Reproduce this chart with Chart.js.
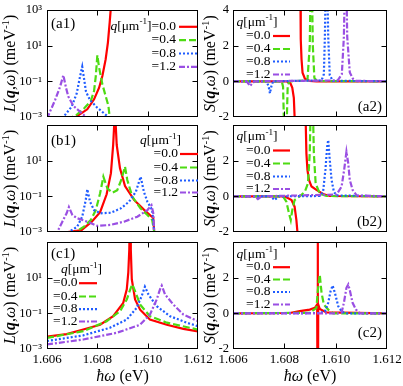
<!DOCTYPE html>
<html><head><meta charset="utf-8">
<script src="https://cdn.jsdelivr.net/npm/chart.js@4/dist/chart.umd.min.js"></script>
<style>html,body{margin:0;padding:0;background:#fff;}#wrap{position:relative;width:403px;height:386px;overflow:hidden;background:#fff;}canvas{position:absolute;left:0;top:0;}</style>
</head><body><div id="wrap"></div>
<script>
// ---------- tick values / labels ----------
const xTicks = [1.606, 1.608, 1.610, 1.612];
const logTicks = [1e-3, 1e-1, 1e1, 1e3];
const logTickLabels = ['10\u207B\u00B3', '10\u207B\u00B9', '10\u00B9', '10\u00B3'];
const linTicks = [-2, 0, 2, 4];
const linTickLabels = ['-2', '0', '2', '4'];
const qLabels = ['=0.0', '=0.4', '=0.8', '=1.2'];

// ---------- data: [ħω (eV), value (meV^-1)] ----------
const a1_q00 = [[1.60700,5e-4],[1.60714,1.0e-3],[1.60760,2.7e-3],[1.60787,9.8e-3],[1.60807,0.044],[1.60820,0.20],[1.60833,1.7],[1.60842,15],[1.60849,195],[1.60853,1000],[1.60856,1e5]];
const a1_q04 = [[1.60690,5e-4],[1.60701,1e-3],[1.60720,0.0014],[1.60747,0.0030],[1.60774,0.0079],[1.60787,0.029],[1.60794,0.20],[1.60800,2.9],[1.60807,0.59],[1.60820,0.068],[1.60833,0.015],[1.60844,0.0042],[1.60849,1e-3],[1.60852,3e-4]];
const a1_q08 = [[1.60655,5e-4],[1.60665,1e-3],[1.60698,0.0038],[1.60718,0.021],[1.60731,0.18],[1.60740,0.66],[1.60747,0.148],[1.60755,0.026],[1.60771,0.0089],[1.60798,0.0035],[1.60844,1e-3],[1.60855,5e-4]];
const a1_q12 = [[1.60600,8e-4],[1.60612,0.0020],[1.60632,0.0089],[1.60652,0.050],[1.60665,0.22],[1.60676,0.041],[1.60685,0.0138],[1.60705,0.0042],[1.60731,0.0020],[1.60755,1e-3],[1.60765,6e-4]];

const a2_q00 = [[1.606,0],[1.60808,0],[1.60824,-0.11],[1.60831,-0.36],[1.60837,-0.92],[1.60840,-2],[1.60842,-4],[1.60850,null],[1.60862,6],[1.60864,2.36],[1.60867,1.24],[1.60871,0.48],[1.60880,0.15],[1.60899,0.02],[1.60925,0],[1.612,0]];
const a2_q04 = [[1.606,0],[1.60790,0],[1.60795,-0.3],[1.60799,-2.5],[1.60804,-6],[1.60809,-2.5],[1.60813,-0.3],[1.60819,0],[1.60890,0.05],[1.60899,2],[1.60905,8],[1.60911,2],[1.60917,0.2],[1.60926,0.02],[1.612,0]];
const a2_q08 = [[1.606,0],[1.60731,0],[1.60739,-0.3],[1.60744,-0.67],[1.60749,-0.3],[1.60756,0],[1.60945,0.05],[1.60954,0.4],[1.60958,2.5],[1.60964,8],[1.60971,2.5],[1.60977,0.35],[1.60989,0.03],[1.612,0]];
const a2_q12 = [[1.606,0],[1.60653,0],[1.60661,-0.15],[1.60667,-0.26],[1.60674,-0.12],[1.60684,0],[1.61008,0.05],[1.61024,0.4],[1.61032,2.5],[1.61039,8],[1.61045,2.5],[1.61055,0.5],[1.61067,0.15],[1.61079,0.03],[1.612,0]];

const b1_q00 = [[1.60675,5e-4],[1.60685,1e-3],[1.60738,0.0013],[1.60778,0.0038],[1.60811,0.013],[1.60837,0.13],[1.60854,2.0],[1.60863,80],[1.60867,1000],[1.60870,1e5],[1.60873,1000],[1.60877,76],[1.60890,3.7],[1.60910,0.38],[1.60946,0.063],[1.60985,0.018],[1.61013,0.0079],[1.61022,0.0063],[1.61026,1e-3],[1.61028,1e-4]];
const b1_q04 = [[1.60705,5e-4],[1.60714,1e-3],[1.60747,0.0020],[1.60774,0.0047],[1.60794,0.017],[1.60811,0.148],[1.60824,1.26],[1.60840,0.28],[1.60860,0.16],[1.60879,0.22],[1.60895,0.83],[1.60910,4.6],[1.60919,0.83],[1.60939,0.095],[1.60972,0.021],[1.60999,0.0089],[1.61018,0.0047],[1.61026,1e-3],[1.61028,1e-4]];
const b1_q08 = [[1.60680,5e-4],[1.60687,1e-3],[1.60720,0.0020],[1.60740,0.0072],[1.60754,0.063],[1.60760,0.25],[1.60771,0.05],[1.60787,0.017],[1.60813,0.0112],[1.60853,0.012],[1.60893,0.021],[1.60926,0.050],[1.60953,0.18],[1.60972,1.26],[1.60985,0.18],[1.60999,0.050],[1.61018,0.017],[1.61026,1e-3],[1.61028,1e-4]];
const b1_q12 = [[1.60635,5e-4],[1.60641,1e-3],[1.60661,0.0038],[1.60678,0.0112],[1.60687,0.025],[1.60701,0.0089],[1.60720,0.0059],[1.60760,0.0038],[1.60800,0.0022],[1.60853,0.0025],[1.60906,0.0038],[1.60959,0.0072],[1.60999,0.017],[1.61015,0.032],[1.61022,0.012],[1.61026,1e-3],[1.61028,1e-4]];

const b2_q00 = [[1.606,0],[1.60801,0],[1.60828,-0.21],[1.60840,-0.58],[1.60847,-1.33],[1.60851,-2.0],[1.60853,-4],[1.60865,null],[1.60882,5],[1.60886,2.41],[1.60890,1.48],[1.60896,0.92],[1.60906,0.55],[1.60925,0.36],[1.60951,0.13],[1.60977,0.02],[1.612,0]];
const b2_q04 = [[1.606,0],[1.60795,0],[1.60808,-0.30],[1.60818,-0.95],[1.60825,-1.33],[1.60831,-0.77],[1.60840,-0.21],[1.60860,0],[1.60880,0.26],[1.60892,0.73],[1.60899,2.41],[1.60907,8],[1.60915,2.41],[1.60922,0.73],[1.60938,0.15],[1.60964,0.02],[1.612,0]];
const b2_q08 = [[1.606,0],[1.60747,0],[1.60762,-0.21],[1.60778,0],[1.60938,0.02],[1.60951,0.26],[1.60960,1.48],[1.60967,2.8],[1.60971,3.16],[1.60977,2.04],[1.60984,0.92],[1.60993,0.26],[1.61003,0.05],[1.612,0]];
const b2_q12 = [[1.606,0],[1.60684,0],[1.60697,-0.15],[1.60711,0],[1.61003,0.1],[1.61023,0.54],[1.61033,1.48],[1.61042,2.5],[1.61049,1.85],[1.61055,0.92],[1.61066,0.36],[1.61082,0.05],[1.612,0]];

const c1_q00 = [[1.606,0.0050],[1.60678,0.0068],[1.60744,0.0123],[1.60811,0.023],[1.60863,0.069],[1.60903,0.39],[1.60917,2.2],[1.60923,19],[1.60927,380],[1.60930,1e5],[1.60933,380],[1.60937,7.9],[1.60950,0.60],[1.60970,0.16],[1.61009,0.045],[1.61076,0.023],[1.61142,0.0135],[1.612,0.0098]];
const c1_q04 = [[1.606,0.0042],[1.60744,0.010],[1.60837,0.036],[1.60890,0.13],[1.60917,0.60],[1.60933,2.7],[1.60939,4.2],[1.60950,1.74],[1.60970,0.31],[1.61009,0.069],[1.61076,0.030],[1.612,0.0123]];
const c1_q08 = [[1.606,0.0028],[1.60744,0.0058],[1.60850,0.0155],[1.60917,0.045],[1.60956,0.20],[1.60976,0.91],[1.60989,3.1],[1.61003,1.15],[1.61036,0.25],[1.61089,0.069],[1.61155,0.030],[1.612,0.019]];
const c1_q12 = [[1.606,0.0018],[1.60744,0.0034],[1.60877,0.0081],[1.60970,0.023],[1.61009,0.085],[1.61036,0.60],[1.61049,2.2],[1.61056,3.6],[1.61069,1.15],[1.61102,0.31],[1.61142,0.085],[1.612,0.036]];

const c2_q00 = [[1.606,0],[1.60821,0.02],[1.60860,0.12],[1.60899,0.21],[1.60919,0.31],[1.60928,0.5],[1.60930,10],[1.60931,-10],[1.60932,0.5],[1.60938,0.25],[1.60964,0.05],[1.612,0]];
const c2_q04 = [[1.606,0],[1.60900,0.03],[1.60925,0.31],[1.60931,1.34],[1.60938,2.18],[1.60945,1.15],[1.60954,0.49],[1.60971,0.21],[1.60990,0],[1.612,0]];
const c2_q08 = [[1.606,0],[1.60938,0.02],[1.60958,0.1],[1.60971,0.59],[1.60980,1.24],[1.60988,1.56],[1.60997,1.15],[1.61010,0.40],[1.61023,0.12],[1.61036,0],[1.612,0]];
const c2_q12 = [[1.606,0],[1.61010,0],[1.61023,0.03],[1.61032,0.59],[1.61042,1.43],[1.61049,1.62],[1.61055,1.30],[1.61066,0.59],[1.61079,0.21],[1.61094,0],[1.612,0]];

// ---------- styles ----------
const SERIF = '"Liberation Serif","Times New Roman","DejaVu Serif",serif';
const STYLE = [
  {color:'#ff0000', dash:[]},
  {color:'#4ddb12', dash:[7,3]},
  {color:'#1f5cff', dash:[2,2]},
  {color:'#9a4fe3', dash:[6,2,2,2]}
];
const qUnit = [{t:'q',s:'italic'},{t:'[\u03BCm'},{t:'-1',sup:true},{t:']'}];
const yTitleL = [{t:'L',s:'italic'},{t:'('},{t:'q',s:'italic bold'},{t:','},{t:'\u03C9',s:'italic'},{t:') (meV'},{t:'-1',sup:true},{t:')'}];
const yTitleS = [{t:'S',s:'italic'},{t:'('},{t:'q',s:'italic bold'},{t:','},{t:'\u03C9',s:'italic'},{t:') (meV'},{t:'-1',sup:true},{t:')'}];
const xTitle = [{t:'\u0127\u03C9',s:'italic'},{t:' (eV)'}];

const LBOX = [47, 198], RBOX = [233, 387];
const ROWS = [[10,117],[125,232],[242,349]];

const panels = [
  {log:true, xb:LBOX, yb:ROWS[0], series:[a1_q00,a1_q04,a1_q08,a1_q12], hideTop:false, xAxis:false,
   label:'(a1)', lab:[51,24.5,'left'], yTitle:yTitleL, yTx:11,
   leg:{inline:true, textRight:176, s0:179, s1:197, rows:[26.3,39.7,53,66.3]}},
  {log:false, xb:RBOX, yb:ROWS[0], series:[a2_q00,a2_q04,a2_q08,a2_q12], hideTop:false, xAxis:false,
   label:'(a2)', lab:[382,107.5,'right'], yTitle:yTitleS, yTx:211,
   leg:{title:[236.5,22,'left'], textRight:270.5, s0:273, s1:290, rows:[35.5,48.5,61,74]}},
  {log:true, xb:LBOX, yb:ROWS[1], series:[b1_q00,b1_q04,b1_q08,b1_q12], hideTop:true, xAxis:false,
   label:'(b1)', lab:[51,141.5,'left'], yTitle:yTitleL, yTx:11,
   leg:{title:[140,140.5,'left'], textRight:178, s0:180, s1:198, rows:[153.5,167,180,192]}},
  {log:false, xb:RBOX, yb:ROWS[1], series:[b2_q00,b2_q04,b2_q08,b2_q12], hideTop:true, xAxis:false,
   label:'(b2)', lab:[382,222.5,'right'], yTitle:yTitleS, yTx:211,
   leg:{title:[236.5,136.5,'left'], textRight:270.5, s0:273, s1:290, rows:[150,163,176,188.5]}},
  {log:true, xb:LBOX, yb:ROWS[2], series:[c1_q00,c1_q04,c1_q08,c1_q12], hideTop:true, xAxis:true,
   label:'(c1)', lab:[51,254.5,'left'], yTitle:yTitleL, yTx:11,
   leg:{title:[61,269.5,'left'], textRight:77.5, s0:79, s1:97, rows:[282.7,296,308.7,321]}},
  {log:false, xb:RBOX, yb:ROWS[2], series:[c2_q00,c2_q04,c2_q08,c2_q12], hideTop:true, xAxis:true,
   label:'(c2)', lab:[382,333.5,'right'], yTitle:yTitleS, yTx:211,
   leg:{title:[236.5,254,'left'], textRight:270.5, s0:273, s1:290, rows:[266.7,279,291.5,304]}}
];

function fnt(style,size){return (style||'normal')+' '+size+'px '+SERIF;}
function segW(ctx,segs,size){let w=0;for(const s of segs){ctx.font=fnt(s.s,s.sup?size*0.68:size);w+=ctx.measureText(s.t).width;}return w;}
function drawSegs(ctx,segs,x,y,size,align){
  const w=segW(ctx,segs,size);
  let cx=align==='right'?x-w:(align==='center'?x-w/2:x);
  ctx.textAlign='left';ctx.textBaseline='middle';ctx.fillStyle='#000';
  for(const s of segs){const sz=s.sup?size*0.68:size;ctx.font=fnt(s.s,sz);
    ctx.fillText(s.t,cx,s.sup?y-size*0.32:y);cx+=ctx.measureText(s.t).width;}
}

function makeDeco(p){
  return {id:'deco', afterDraw(chart){
    const ctx=chart.ctx, a=chart.chartArea, xs=chart.scales.x, ys=chart.scales.y;
    ctx.save();
    ctx.strokeStyle='#000';ctx.lineWidth=1;ctx.setLineDash([]);
    const L=Math.round(a.left)+0.5,R=Math.round(a.right)-0.5,T=Math.round(a.top)+0.5,B=Math.round(a.bottom)-0.5;
    ctx.strokeRect(L,T,R-L,B-T);
    const tl=5;
    ctx.beginPath();
    for(const v of xTicks){const px=Math.round(xs.getPixelForValue(v))+0.5; if(px<=L+1||px>=R-1)continue;
      ctx.moveTo(px,B);ctx.lineTo(px,B-tl);ctx.moveTo(px,T);ctx.lineTo(px,T+tl);}
    for(const v of (p.log?logTicks:linTicks)){const py=Math.round(ys.getPixelForValue(v))+0.5; if(py<=T+1||py>=B-1)continue;
      ctx.moveTo(L,py);ctx.lineTo(L+tl,py);ctx.moveTo(R,py);ctx.lineTo(R-tl,py);}
    ctx.stroke();
    drawSegs(ctx,[{t:p.label}],p.lab[0],p.lab[1],15,p.lab[2]);
    const lg=p.leg, fs=13.5;
    for(let i=0;i<4;i++){
      const y=lg.rows[i];
      let segs=[{t:qLabels[i]}];
      if(lg.inline&&i===0) segs=qUnit.concat(segs);
      drawSegs(ctx,segs,lg.textRight,y,fs,'right');
      ctx.strokeStyle=STYLE[i].color;ctx.lineWidth=2.2;ctx.setLineDash(STYLE[i].dash);
      ctx.beginPath();ctx.moveTo(lg.s0,y+0.5);ctx.lineTo(lg.s1,y+0.5);ctx.stroke();
    }
    ctx.setLineDash([]);
    if(lg.title) drawSegs(ctx,qUnit,lg.title[0],lg.title[1],fs,lg.title[2]);
    ctx.save();ctx.translate(p.yTx,(a.top+a.bottom)/2);ctx.rotate(-Math.PI/2);
    drawSegs(ctx,p.yTitle,0,0,16,'center');ctx.restore();
    if(p.xAxis) drawSegs(ctx,xTitle,(a.left+a.right)/2,377,16,'center');
    ctx.restore();
  }};
}

const wrap=document.getElementById('wrap');
const YW=40, XH=22;
for(const p of panels){
  const cv=document.createElement('canvas');cv.width=403;cv.height=386;wrap.appendChild(cv);
  const datasets=p.series.map((s,i)=>({
    data:s.map(q=>({x:q[0],y:q[1]})),
    borderColor:STYLE[i].color, borderDash:STYLE[i].dash, borderWidth:2.2,
    pointRadius:0, tension:0, fill:false, spanGaps:false, order:4-i
  }));
  const yLabels=p.log?logTickLabels:linTickLabels;
  new Chart(cv,{type:'line',data:{datasets},plugins:[makeDeco(p)],
    options:{responsive:false,animation:false,events:[],
      layout:{padding:{left:p.xb[0]-YW,right:403-p.xb[1],top:p.yb[0],bottom:386-p.yb[1]-(p.xAxis?XH:0)}},
      plugins:{legend:{display:false},tooltip:{enabled:false}},
      scales:{
        x:{type:'linear',min:1.606,max:1.612,display:p.xAxis,
           afterBuildTicks:s=>{s.ticks=xTicks.map(v=>({value:v}));},
           afterFit:s=>{if(p.xAxis){s.height=XH;} s.paddingLeft=0;s.paddingRight=0;},
           grid:{display:false,drawTicks:false},border:{display:false},
           ticks:{padding:3,color:'#000',font:{family:SERIF,size:13},maxRotation:0,autoSkip:false,callback:v=>v.toFixed(3)}},
        y:{type:p.log?'logarithmic':'linear',min:p.log?1e-3:-2,max:p.log?1e3:4,
           afterBuildTicks:s=>{s.ticks=(p.log?logTicks:linTicks).map(v=>({value:v}));},
           afterFit:s=>{s.width=YW;s.paddingTop=0;s.paddingBottom=0;},
           grid:{display:false,drawTicks:false},border:{display:false},
           ticks:{padding:p.log?5:4,color:'#000',font:{family:SERIF,size:12.5},autoSkip:false,
             callback:(v,i)=>{if(p.hideTop&&i===3)return '';return yLabels[i];}}}
      }}});
}
</script></body></html>
